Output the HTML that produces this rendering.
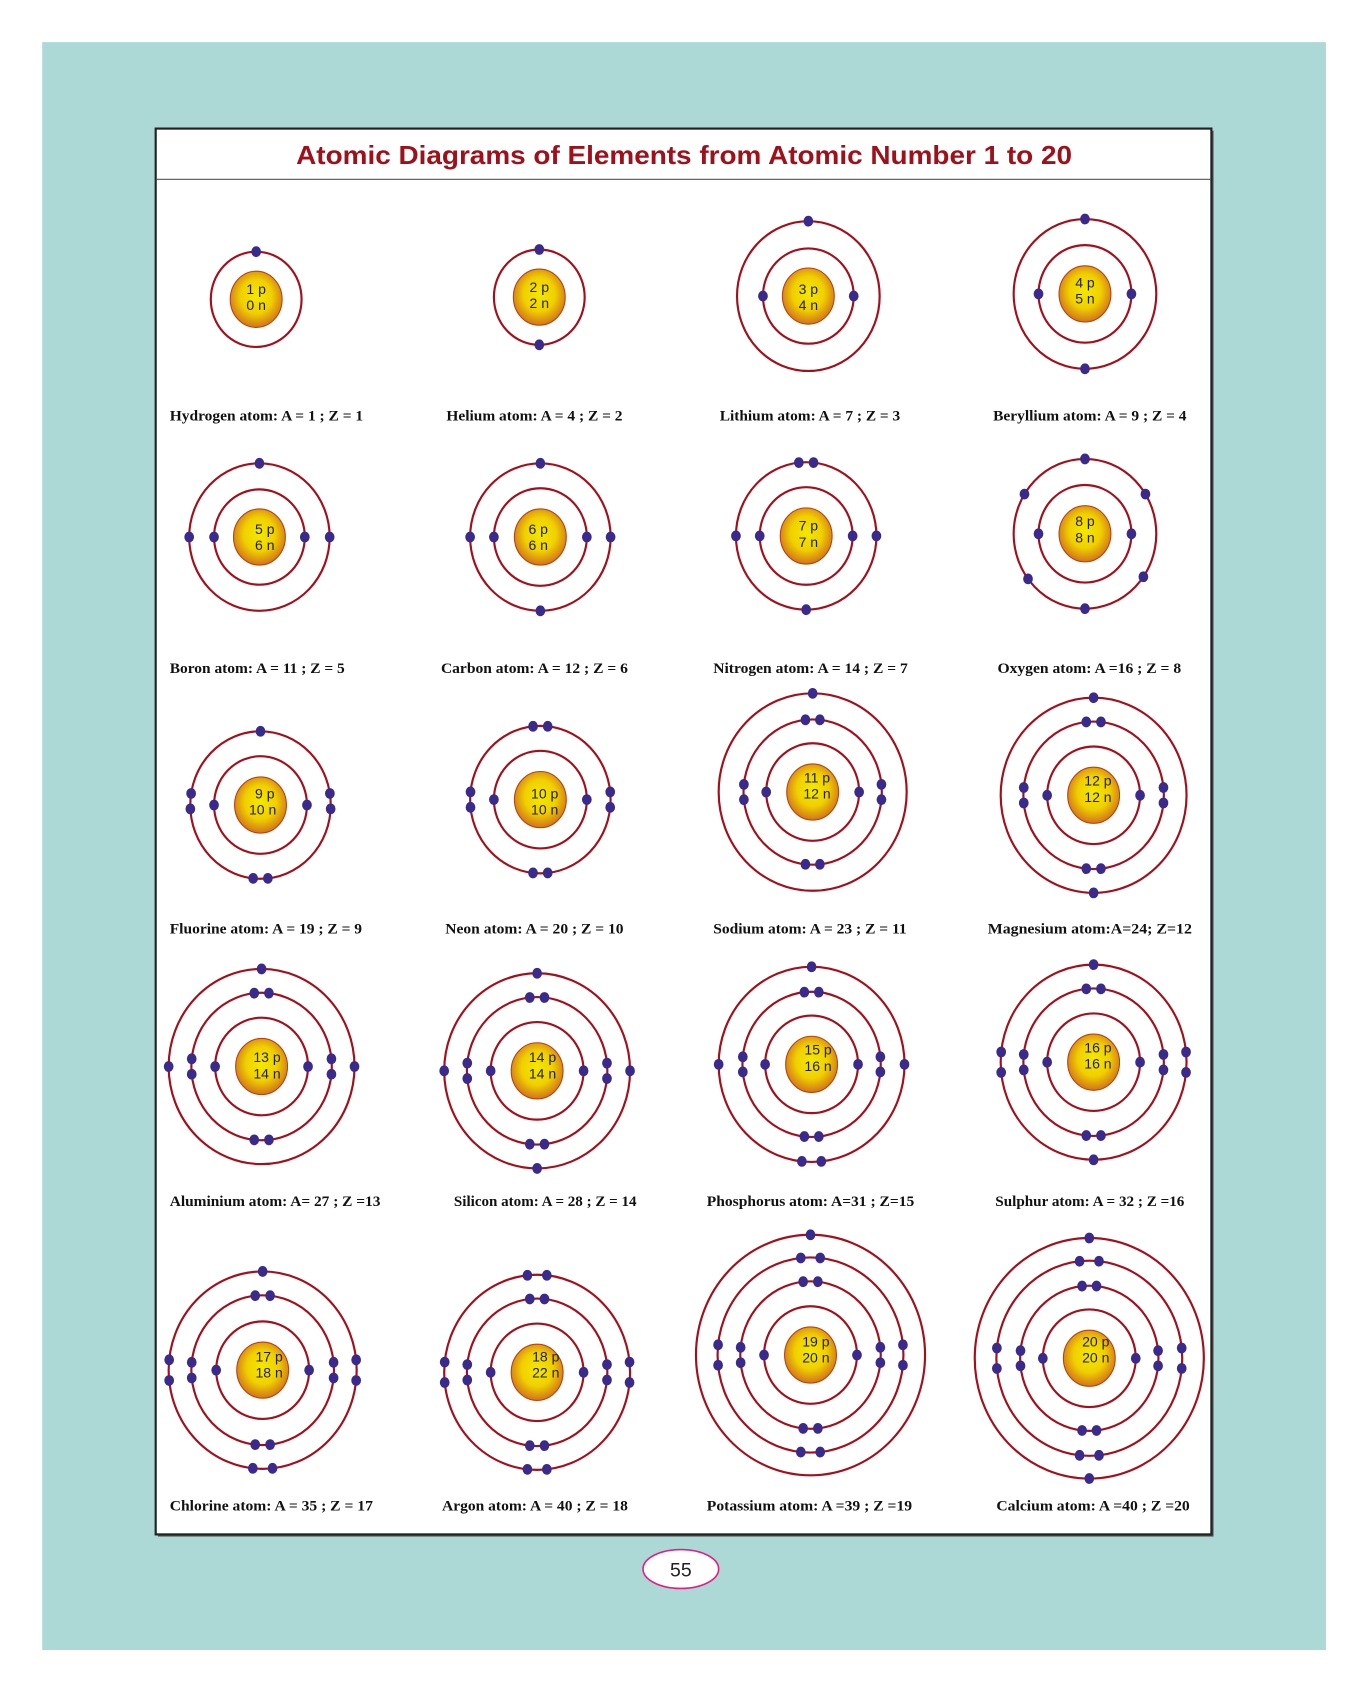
<!DOCTYPE html>
<html><head><meta charset="utf-8"><style>
html,body{margin:0;padding:0;background:#fff;}
svg{display:block;}
.lb{font-family:"Liberation Serif",serif;font-weight:bold;font-size:14px;fill:#111;}
.nt{font-family:"Liberation Sans",sans-serif;font-size:13px;fill:#222;text-anchor:middle;}
</style></head><body>
<svg id="s" width="1366" height="1690" viewBox="0 0 1264 1564" xmlns="http://www.w3.org/2000/svg">
<defs>
<radialGradient id="g" cx="50%" cy="45%" r="55%">
<stop offset="0" stop-color="#f4e800"/><stop offset="0.55" stop-color="#f0d000"/><stop offset="1" stop-color="#d2741a"/>
</radialGradient>
</defs>
<rect x="39" y="39" width="1188" height="1488" fill="#acd8d5"/>
<rect x="146" y="121" width="977" height="1301" fill="#555"/>
<rect x="144" y="119" width="977" height="1301" fill="#fff" stroke="#222" stroke-width="2"/>
<line x1="145" y1="166" x2="1120" y2="166" stroke="#666" stroke-width="1.2"/>
<text x="274" y="152" textLength="718" lengthAdjust="spacingAndGlyphs" font-family="Liberation Sans, sans-serif" font-weight="bold" font-size="24" fill="#a0101a">Atomic Diagrams of Elements from Atomic Number 1 to 20</text>
<ellipse cx="630" cy="1452" rx="35" ry="18" fill="#fff" stroke="#e0208a" stroke-width="1.5"/>
<text x="630" y="1459" text-anchor="middle" font-family="Liberation Sans, sans-serif" font-size="18" fill="#222">55</text>
<g id="atoms"></g>

<text class="lb" x="157" y="389" textLength="179" lengthAdjust="spacingAndGlyphs">Hydrogen atom: A = 1 ; Z = 1</text>
<text class="lb" x="413" y="389" textLength="163" lengthAdjust="spacingAndGlyphs">Helium atom: A = 4 ; Z = 2</text>
<text class="lb" x="666" y="389" textLength="167" lengthAdjust="spacingAndGlyphs">Lithium atom: A = 7 ; Z = 3</text>
<text class="lb" x="919" y="389" textLength="179" lengthAdjust="spacingAndGlyphs">Beryllium atom: A = 9 ; Z = 4</text>
<text class="lb" x="157" y="623" textLength="162" lengthAdjust="spacingAndGlyphs">Boron atom: A = 11 ; Z = 5</text>
<text class="lb" x="408" y="623" textLength="173" lengthAdjust="spacingAndGlyphs">Carbon atom: A = 12 ; Z = 6</text>
<text class="lb" x="660" y="623" textLength="180" lengthAdjust="spacingAndGlyphs">Nitrogen atom: A = 14 ; Z = 7</text>
<text class="lb" x="923" y="623" textLength="170" lengthAdjust="spacingAndGlyphs">Oxygen atom: A =16 ; Z = 8</text>
<text class="lb" x="157" y="864" textLength="178" lengthAdjust="spacingAndGlyphs">Fluorine atom: A = 19 ; Z = 9</text>
<text class="lb" x="412" y="864" textLength="165" lengthAdjust="spacingAndGlyphs">Neon atom: A = 20 ; Z = 10</text>
<text class="lb" x="660" y="864" textLength="179" lengthAdjust="spacingAndGlyphs">Sodium atom: A = 23 ; Z = 11</text>
<text class="lb" x="914" y="864" textLength="189" lengthAdjust="spacingAndGlyphs">Magnesium atom:A=24; Z=12</text>
<text class="lb" x="157" y="1116" textLength="195" lengthAdjust="spacingAndGlyphs">Aluminium atom: A= 27 ; Z =13</text>
<text class="lb" x="420" y="1116" textLength="169" lengthAdjust="spacingAndGlyphs">Silicon atom: A = 28 ; Z = 14</text>
<text class="lb" x="654" y="1116" textLength="192" lengthAdjust="spacingAndGlyphs">Phosphorus atom: A=31 ; Z=15</text>
<text class="lb" x="921" y="1116" textLength="175" lengthAdjust="spacingAndGlyphs">Sulphur atom: A = 32 ; Z =16</text>
<text class="lb" x="157" y="1398" textLength="188" lengthAdjust="spacingAndGlyphs">Chlorine atom: A = 35 ; Z = 17</text>
<text class="lb" x="409" y="1398" textLength="172" lengthAdjust="spacingAndGlyphs">Argon atom: A = 40 ; Z = 18</text>
<text class="lb" x="654" y="1398" textLength="190" lengthAdjust="spacingAndGlyphs">Potassium atom: A =39 ; Z =19</text>
<text class="lb" x="922" y="1398" textLength="179" lengthAdjust="spacingAndGlyphs">Calcium atom: A =40 ; Z =20</text>

<g id="nuc"></g>
<g>
<text class="nt" x="237" y="272">1 p</text><text class="nt" x="237" y="287">0 n</text>
<text class="nt" x="499" y="270">2 p</text><text class="nt" x="499" y="285">2 n</text>
<text class="nt" x="748" y="272">3 p</text><text class="nt" x="748" y="287">4 n</text>
<text class="nt" x="1004" y="266">4 p</text><text class="nt" x="1004" y="281">5 n</text>
<text class="nt" x="245" y="494">5 p</text><text class="nt" x="245" y="509">6 n</text>
<text class="nt" x="498" y="494">6 p</text><text class="nt" x="498" y="509">6 n</text>
<text class="nt" x="748" y="491">7 p</text><text class="nt" x="748" y="506">7 n</text>
<text class="nt" x="1004" y="487">8 p</text><text class="nt" x="1004" y="502">8 n</text>
<text class="nt" x="245" y="739">9 p</text><text class="nt" x="243" y="754">10 n</text>
<text class="nt" x="504" y="739">10 p</text><text class="nt" x="504" y="754">10 n</text>
<text class="nt" x="756" y="724">11 p</text><text class="nt" x="756" y="739">12 n</text>
<text class="nt" x="1016" y="727">12 p</text><text class="nt" x="1016" y="742">12 n</text>
<text class="nt" x="247" y="983">13 p</text><text class="nt" x="247" y="998">14 n</text>
<text class="nt" x="502" y="983">14 p</text><text class="nt" x="502" y="998">14 n</text>
<text class="nt" x="757" y="976">15 p</text><text class="nt" x="757" y="991">16 n</text>
<text class="nt" x="1016" y="974">16 p</text><text class="nt" x="1016" y="989">16 n</text>
<text class="nt" x="249" y="1260">17 p</text><text class="nt" x="249" y="1275">18 n</text>
<text class="nt" x="505" y="1260">18 p</text><text class="nt" x="505" y="1275">22 n</text>
<text class="nt" x="755" y="1246">19 p</text><text class="nt" x="755" y="1261">20 n</text>
<text class="nt" x="1014" y="1246">20 p</text><text class="nt" x="1014" y="1261">20 n</text>
</g>
</svg>
<script>
(function(){
var NS="http://www.w3.org/2000/svg";
function el(p,t,a){var e=document.createElementNS(NS,t);for(var k in a)e.setAttribute(k,a[k]);p.appendChild(e);return e;}
var T=270,B=90,L=180,R=0;
function P(a){return [a-6,a+6];}
var inner=[L,R];
var mid8=[].concat(P(T),P(L),P(R),P(B));
var atoms=[
[237,277,[[42,[T]]]],
[499,275,[[42,[T,B]]]],
[748,274,[[42,inner],[66,[T]]]],
[1004,272,[[43,inner],[66,[T,B]]]],
[240,497,[[42,inner],[65,[T,L,R]]]],
[500,497,[[43,inner],[65,[T,L,R,B]]]],
[746,496,[[43,inner],[65,P(T).concat([L,R,B])]]],
[1004,494,[[43,inner],[66,[T,212,328,143,35,B]]]],
[241,745,[[43,inner],[65,[T,177,189,3,-9,84,96]]]],
[500,740,[[43,inner],[65,mid8]]],
[752,733,[[43,inner],[64,mid8],[87,[T]]]],
[1012,736,[[43,inner],[65,mid8],[86,[T,B]]]],
[242,987,[[43,inner],[65,mid8],[86,[T,L,R]]]],
[497,991,[[43,inner],[65,mid8],[86,[T,L,R,B]]]],
[751,985,[[43,inner],[64,mid8],[86,[T,L,R].concat(P(B))]]],
[1012,983,[[43,inner],[65,mid8],[86,[T,B].concat(P(L),P(R))]]],
[243,1268,[[43,inner],[66,mid8],[87,[T].concat(P(L),P(R),P(B))]]],
[497,1270,[[43,inner],[65,mid8],[86,mid8]]],
[750,1254,[[43,inner],[65,mid8],[86,mid8],[106,[T]]]],
[1008,1257,[[43,inner],[64,mid8],[86,mid8],[106,[T,B]]]]
];
var g=document.getElementById('atoms');
atoms.forEach(function(a){
 var cx=a[0],cy=a[1];
 a[2].forEach(function(o){
  var r=o[0],ry=r*1.05;
  el(g,'ellipse',{cx:cx,cy:cy,rx:r,ry:ry,fill:'none',stroke:'#a3101c','stroke-width':2});
 });
 el(g,'ellipse',{cx:cx,cy:cy,rx:24,ry:26,fill:'url(#g)',stroke:'#b8401a','stroke-width':1});
 a[2].forEach(function(o){
  var r=o[0],ry=r*1.05;
  o[1].forEach(function(d){var t=d*Math.PI/180;
   el(g,'ellipse',{cx:cx+r*Math.cos(t),cy:cy+ry*Math.sin(t),rx:4.5,ry:5,fill:'#3a2a8c'});});
 });
});
})();
</script>
</body></html>
